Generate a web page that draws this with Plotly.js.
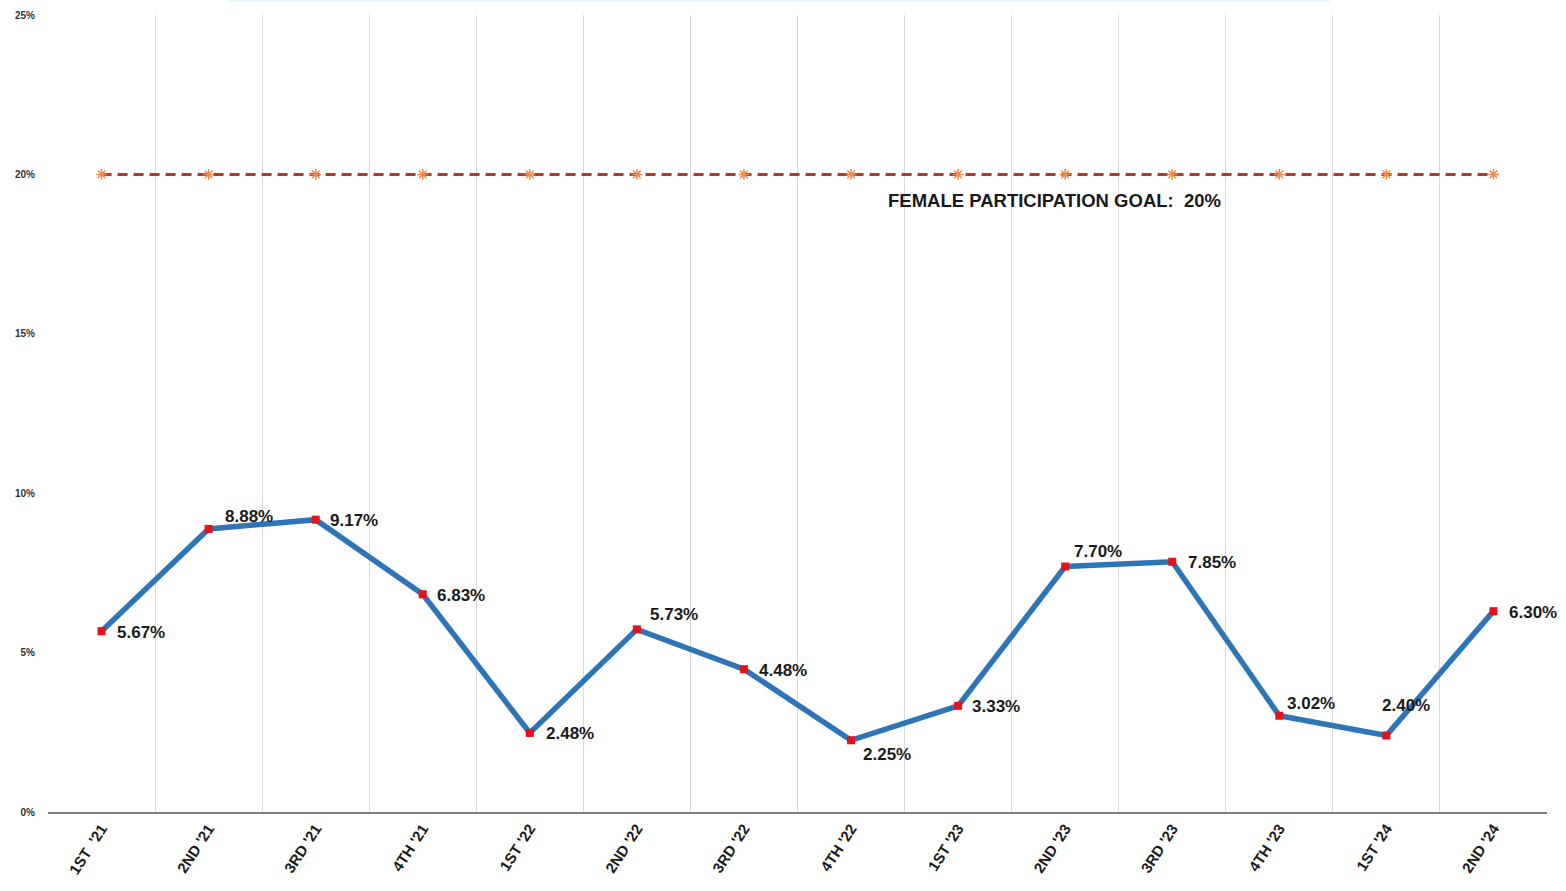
<!DOCTYPE html>
<html>
<head>
<meta charset="utf-8">
<script src="https://cdn.plot.ly/plotly-3.0.1.min.js"></script>
<style>html,body{margin:0;padding:0;background:#fff;}#chart{width:1566px;height:891px;}</style>
</head>
<body>
<div id="chart"></div>
<script>
var quarters = ["1ST  '21","2ND '21","3RD '21","4TH '21","1ST '22","2ND '22","3RD '22","4TH '22","1ST '23","2ND '23","3RD '23","4TH '23","1ST '24","2ND '24"];
var participation = [0.0567,0.0888,0.0917,0.0683,0.0248,0.0573,0.0448,0.0225,0.0333,0.0770,0.0785,0.0302,0.0240,0.0630];
var goal = [0.20,0.20,0.20,0.20,0.20,0.20,0.20,0.20,0.20,0.20,0.20,0.20,0.20,0.20];
var goalLabel = "FEMALE PARTICIPATION GOAL:  20%";
var yTicks = [0,0.05,0.10,0.15,0.20,0.25];

// label offsets (pixels) for each data label, style only
var labelDx = [13,14,12,12,14,11,13,10,12,7,14,6,-6,14];
var labelDy = [-1,12,-1,-1,-1,15,-1,-14,-1,15,-1,12,30,-1];

var goalTrace = {
  x: quarters, y: goal, type: 'scatter', mode: 'lines+markers',
  line: {color: '#b8372a', width: 3, dash: '10px,6px'},
  marker: {symbol: 'asterisk-open', size: 9, line: {color: '#f08a4b', width: 1.5}, color: '#f08a4b'},
  hoverinfo: 'skip', showlegend: false
};
var mainTrace = {
  x: quarters, y: participation, type: 'scatter', mode: 'lines+markers',
  line: {color: '#2e75b6', width: 5.5},
  marker: {symbol: 'square', size: 8, color: '#e3121b'},
  showlegend: false
};

var annotations = participation.map(function(v, i) {
  return {
    x: quarters[i], y: v, xref: 'x', yref: 'y',
    text: (v * 100).toFixed(2) + '%', showarrow: false,
    xanchor: 'left', yanchor: 'middle',
    xshift: labelDx[i], yshift: labelDy[i],
    font: {family: 'Liberation Sans, Arial, sans-serif', size: 17, color: '#1a1a1a', weight: 'bold'}
  };
});
annotations.push({
  x: 8.9, y: 0.1917, xref: 'x', yref: 'y',
  text: goalLabel, showarrow: false,
  font: {family: 'Liberation Sans, Arial, sans-serif', size: 18.5, color: '#1a1a1a', weight: 'bold'}
});

var layout = {
  width: 1566, height: 891,
  margin: {l: 48, r: 19, t: 15, b: 79},
  paper_bgcolor: '#ffffff', plot_bgcolor: '#ffffff',
  showlegend: false,
  xaxis: {
    type: 'category',
    range: [-0.5, 13.5],
    tickson: 'boundaries',
    showgrid: true, gridcolor: '#d9d9d9', gridwidth: 1,
    showline: true, linecolor: '#7f7f7f', linewidth: 2,
    ticks: '', tickangle: -57,
    tickfont: {family: 'Liberation Sans, Arial, sans-serif', size: 15, color: '#1a1a1a', weight: 'bold'},
    zeroline: false
  },
  yaxis: {
    range: [0, 0.25],
    tickvals: yTicks,
    tickformat: '.0%',
    showgrid: false, zeroline: false, showline: false,
    ticks: '', ticklabelstandoff: 12,
    tickfont: {family: 'Liberation Sans, Arial, sans-serif', size: 10, color: '#333333', weight: 'bold'}
  },
  shapes: [{
    type: 'line', xref: 'paper', yref: 'paper',
    x0: 0.121, x1: 0.855, y0: 1.0176, y1: 1.0176,
    line: {color: '#e6f5fb', width: 2}
  }],
  annotations: annotations
};

Plotly.newPlot('chart', [goalTrace, mainTrace], layout, {displayModeBar: false, staticPlot: true});
</script>
</body>
</html>
